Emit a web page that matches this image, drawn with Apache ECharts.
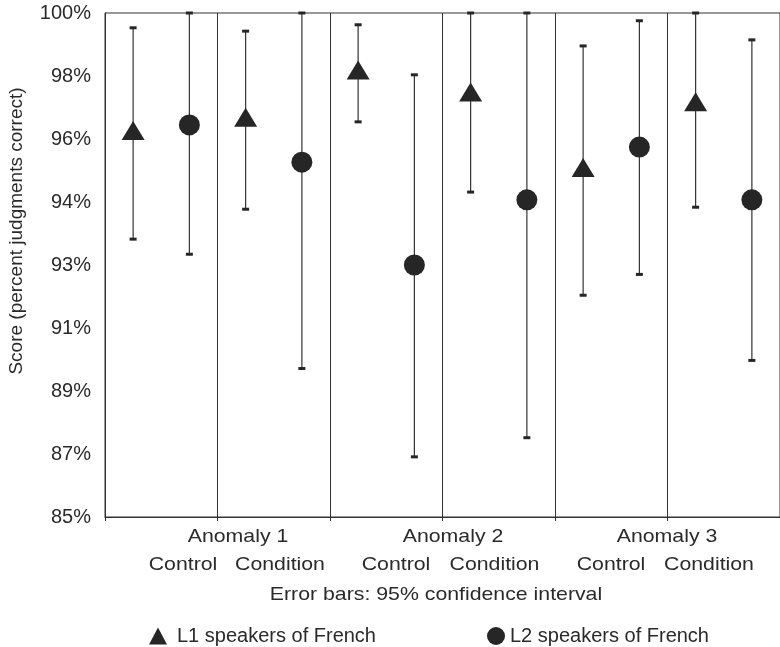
<!DOCTYPE html>
<html lang="en">
<head>
<meta charset="UTF-8">
<title>Score by anomaly</title>
<style>
    * {
        margin: 0;
        padding: 0;
    }
    html, body {
        width: 100%;
        height: 100%;
        background: #fff;
    }
    #charts {
        width: 780px;
        height: 647px;
    }
</style>
<script src="https://cdn.jsdelivr.net/npm/echarts@6/dist/echarts.min.js"></script>
</head>
<body>
<div id="charts"></div>
<script>
    // groups: Anomaly 1 Control, Anomaly 1 Condition, Anomaly 2 Control, ...
    var anomalies = ['Anomaly 1', 'Anomaly 2', 'Anomaly 3'];
    var conditions = ['Control', 'Condition'];
    var seriesNames = ['L1 speakers of French', 'L2 speakers of French'];

    // mean score and 95% confidence interval (percent)
    var l1Mean = [96.50, 96.90, 98.30, 97.65, 95.40, 97.36];
    var l1Low = [93.27, 94.16, 96.76, 94.67, 91.60, 94.22];
    var l1High = [99.56, 99.46, 99.65, 100, 99.02, 100];
    var l2Mean = [96.67, 95.56, 92.50, 94.44, 96.01, 94.44];
    var l2Low = [92.82, 89.42, 86.79, 87.36, 92.22, 89.66];
    var l2High = [100, 100, 98.16, 100, 99.77, 99.20];

    var yMin = 85, yMax = 100, yStep = 1.875;
    var yTitle = 'Score (percent judgments correct)';
    var note = 'Error bars: 95% confidence interval';

    var ink = '#262626';
    var textColor = '#2a2a2a';
    var font = 'Liberation Sans, Arial, Helvetica, sans-serif';

    function points(vals, offset) {
        return vals.map(function (v, i) { return [i + offset, v]; });
    }

    function errorBars(low, high, offset) {
        return {
            type: 'custom',
            silent: true,
            z: 1,
            encode: { x: 0, y: [1, 2] },
            data: low.map(function (v, i) { return [i + offset, v, high[i]]; }),
            renderItem: function (params, api) {
                var x = api.value(0);
                var lo = api.coord([x, api.value(1)]);
                var hi = api.coord([x, api.value(2)]);
                var w = 3.5;
                return {
                    type: 'group',
                    children: [
                        { type: 'line', shape: { x1: lo[0], y1: lo[1], x2: hi[0], y2: hi[1] },
                          style: { stroke: '#333', lineWidth: 1.2 } },
                        { type: 'rect', shape: { x: hi[0] - w, y: hi[1] - 1.5, width: 2 * w, height: 3 },
                          style: { fill: '#262626' } },
                        { type: 'rect', shape: { x: lo[0] - w, y: lo[1] - 1.5, width: 2 * w, height: 3 },
                          style: { fill: '#262626' } }
                    ]
                };
            }
        };
    }

    // text below the plot
    var graphics = [];
    var anomalyX = [238, 453, 667];
    var condX = [183, 280, 396, 494.5, 611, 709];
    function label(text, x, y, size, sx, rot) {
        return {
            type: 'text', x: x, y: y, scaleX: sx || 1, rotation: rot || 0, silent: true,
            style: { text: text, fontSize: size, fontFamily: font, fill: textColor,
                     align: 'center', verticalAlign: 'middle' }
        };
    }
    anomalies.forEach(function (a, i) {
        graphics.push(label(a, anomalyX[i], 537, 19, 1.12));
        conditions.forEach(function (c, j) {
            graphics.push(label(c, condX[i * 2 + j], 565, 19, 1.12));
        });
    });
    graphics.push(label(note, 436, 595, 19, 1.12));
    graphics.push(label(yTitle, 17, 231, 19, 1, Math.PI / 2));

    var option = {
        animation: false,
        grid: {
            left: 105,
            right: -4,
            top: 13,
            bottom: 130,
            show: true,
            borderColor: '#333',
            borderWidth: 1
        },
        legend: [{
            data: [seriesNames[0]],
            left: 144,
            top: 621,
            itemWidth: 18,
            itemHeight: 17,
            selectedMode: false,
            textStyle: { fontSize: 20, fontFamily: font, color: textColor, padding: [0, 0, 0, 5] }
        }, {
            data: [seriesNames[1]],
            left: 482,
            top: 621,
            itemWidth: 18,
            itemHeight: 18,
            selectedMode: false,
            textStyle: { fontSize: 20, fontFamily: font, color: textColor }
        }],
        xAxis: {
            type: 'value',
            min: 0,
            max: 6,
            interval: 1,
            axisLine: { show: true, lineStyle: { color: '#333', width: 1 } },
            axisTick: { show: true, length: 4, lineStyle: { color: '#333' } },
            axisLabel: { show: false },
            splitLine: { show: true, lineStyle: { color: '#333', width: 1 } }
        },
        yAxis: {
            type: 'value',
            min: yMin,
            max: yMax,
            interval: yStep,
            axisLine: { show: true, lineStyle: { color: '#333', width: 1 } },
            axisTick: { show: false },
            splitLine: { show: false },
            axisLabel: {
                margin: 14,
                fontSize: 20,
                fontFamily: font,
                color: textColor,
                formatter: function (v) { return Math.round(v) + '%'; }
            }
        },
        graphic: graphics,
        series: [
            errorBars(l1Low, l1High, 0.25),
            errorBars(l2Low, l2High, 0.75),
            {
                name: seriesNames[0],
                type: 'scatter',
                z: 3,
                symbol: 'triangle',
                symbolSize: [23, 19],
                itemStyle: { color: ink, opacity: 1 },
                data: points(l1Mean, 0.25)
            },
            {
                name: seriesNames[1],
                type: 'scatter',
                z: 3,
                symbol: 'circle',
                symbolSize: 21,
                itemStyle: { color: ink, opacity: 1 },
                data: points(l2Mean, 0.75)
            }
        ]
    };

    var myChart = echarts.init(document.getElementById('charts'));
    myChart.setOption(option);
</script>
</body>
</html>
